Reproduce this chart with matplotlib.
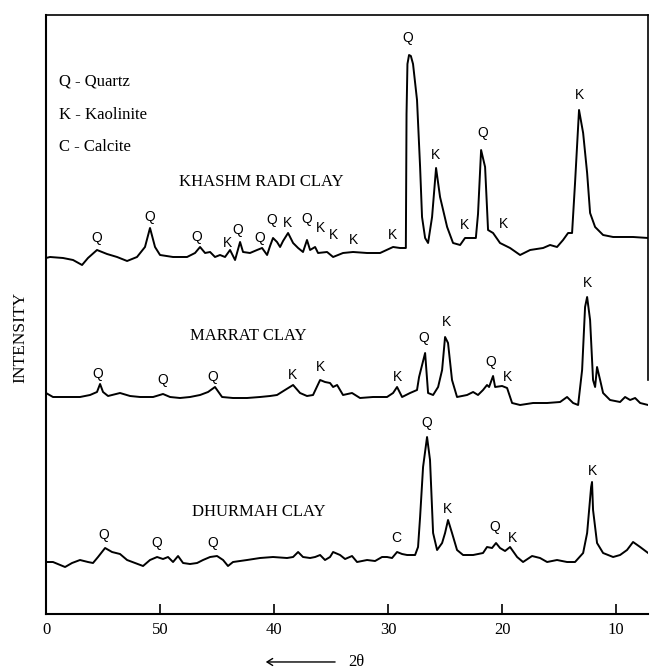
import matplotlib
matplotlib.use("Agg")
import matplotlib.pyplot as plt

# X-ray diffraction traces (2-theta in degrees, stacked intensity)
khashm_theta = [60.0, 59.65, 58.51, 57.63, 56.84, 56.32, 55.53, 54.65, 53.77, 52.89,
                52.02, 51.32, 50.88, 50.44, 50.0, 48.86, 47.63, 46.93, 46.49, 46.05,
                45.61, 45.18, 44.74, 44.30, 43.86, 43.42, 42.98, 42.72, 42.11, 41.49,
                41.05, 40.61, 40.35, 40.09, 39.74, 39.47, 39.21, 38.77, 38.33, 37.89,
                37.46, 37.11, 36.84, 36.40, 36.14, 35.35, 34.82, 33.95, 33.07, 31.84,
                30.70, 29.56, 28.95, 28.44, 28.38, 28.30, 28.16, 28.0, 27.81, 27.46,
                27.19, 27.02, 26.75, 26.49, 26.14, 25.79, 25.44, 24.82, 24.30, 23.68,
                23.25, 22.81, 22.30, 22.11, 21.84, 21.49, 21.23, 20.79, 20.18, 19.30,
                18.42, 17.54, 16.40, 15.79, 15.18, 14.65, 14.21, 13.86, 13.60, 13.25,
                12.89, 12.54, 12.28, 11.84, 11.14, 10.26, 9.39, 8.51, 7.19]
khashm_int = [356, 357, 356, 354, 349, 356, 364, 360, 357, 353,
              357, 367, 386, 367, 359, 357, 357, 361, 367, 361,
              362, 357, 359, 357, 364, 354, 372, 362, 361, 364,
              366, 359, 368, 376, 372, 367, 373, 381, 371, 366,
              362, 374, 364, 367, 361, 362, 357, 361, 362, 361,
              361, 367, 366, 366, 500, 550, 559, 558, 550, 514,
              447, 397, 376, 371, 397, 446, 417, 387, 371, 369,
              376, 376, 376, 400, 464, 447, 384, 381, 371, 366,
              359, 364, 366, 369, 367, 374, 381, 381, 431, 504,
              481, 441, 401, 387, 379, 377, 377, 377, 376]

marrat_theta = [60.0, 59.39, 58.16, 57.02, 56.14, 55.53, 55.26, 55.0, 54.56, 53.51,
                52.63, 51.75, 50.61, 49.74, 49.12, 48.25, 47.37, 46.49, 45.79, 45.18,
                44.56, 43.60, 42.37, 41.23, 40.35, 39.74, 39.04, 38.33, 37.72, 37.11,
                36.58, 35.96, 35.53, 35.09, 34.82, 34.47, 33.95, 33.16, 32.46, 31.32,
                30.09, 29.56, 29.21, 28.77, 28.07, 27.46, 27.28, 26.75, 26.49, 26.05,
                25.61, 25.26, 25.0, 24.74, 24.39, 23.95, 23.07, 22.54, 22.11, 21.67,
                21.32, 21.14, 20.79, 20.61, 20.0, 19.56, 19.12, 18.42, 17.28, 16.05,
                14.91, 14.30, 13.77, 13.33, 12.98, 12.72, 12.54, 12.28, 12.02, 11.84,
                11.67, 11.40, 11.14, 10.53, 9.65, 9.21, 8.77, 8.33, 7.89, 7.19]
marrat_int = [221, 217, 217, 217, 219, 222, 230, 222, 218, 221,
              218, 217, 217, 220, 217, 216, 217, 219, 222, 227,
              217, 216, 216, 217, 218, 219, 224, 229, 221, 218,
              219, 234, 232, 231, 227, 229, 219, 221, 216, 217,
              217, 221, 227, 217, 221, 224, 237, 261, 221, 219,
              227, 244, 277, 271, 234, 217, 219, 222, 219, 224,
              229, 227, 238, 227, 228, 226, 211, 209, 211, 211,
              212, 217, 211, 209, 244, 307, 317, 294, 234, 227,
              247, 234, 221, 214, 212, 217, 214, 216, 211, 209]

dhurmah_theta = [60.0, 59.39, 58.33, 57.72, 57.02, 56.32, 55.88, 55.44, 54.82, 54.21,
                 53.51, 52.89, 52.19, 51.49, 50.88, 50.26, 49.74, 49.30, 48.86, 48.42,
                 47.98, 47.37, 46.75, 46.23, 45.61, 45.0, 44.47, 44.04, 43.60, 42.37,
                 41.23, 40.09, 38.86, 38.33, 37.89, 37.46, 36.84, 36.40, 35.96, 35.53,
                 35.09, 34.82, 34.21, 33.77, 33.16, 32.72, 31.84, 31.14, 30.53, 30.09,
                 29.65, 29.21, 28.77, 28.33, 27.63, 27.37, 27.19, 26.93, 26.58, 26.32,
                 26.05, 25.70, 25.26, 25.0, 24.74, 24.39, 23.95, 23.42, 22.54, 21.67,
                 21.32, 20.88, 20.53, 20.18, 19.74, 19.30, 18.68, 18.16, 17.37, 16.67,
                 16.05, 15.18, 14.30, 13.60, 12.89, 12.54, 12.19, 12.11, 12.02, 11.67,
                 11.14, 10.26, 9.65, 9.04, 8.51, 7.89, 7.19]
dhurmah_int = [52, 52, 47, 51, 54, 52, 51, 57, 66, 62,
               60, 54, 51, 48, 54, 57, 55, 57, 52, 58,
               51, 50, 51, 54, 57, 58, 54, 48, 52, 54,
               56, 57, 56, 57, 62, 57, 56, 57, 59, 54,
               57, 62, 59, 55, 58, 52, 54, 53, 57, 57,
               56, 62, 60, 59, 59, 67, 97, 147, 177, 154,
               81, 64, 71, 81, 94, 81, 64, 59, 59, 61,
               67, 66, 71, 66, 63, 67, 57, 52, 58, 56,
               52, 54, 52, 52, 61, 81, 127, 132, 104, 71,
               61, 57, 59, 64, 72, 67, 61]

# peak identification letters (mineral, 2-theta, height of the letter)
khashm_peaks = ["Q", "Q", "Q", "K", "Q", "Q", "Q", "K", "Q", "K",
                "K", "K", "K", "Q", "K", "K", "Q", "K", "K"]
khashm_peak_theta = [55.53, 50.88, 46.75, 44.12, 43.16, 41.23, 40.18, 38.86, 37.11, 35.96,
                     34.82, 33.07, 29.65, 28.25, 25.88, 23.33, 21.67, 19.91, 13.25]
khashm_peak_int = [376, 397, 377, 371, 384, 376, 394, 391, 395, 386,
                   379, 374, 379, 576, 459, 389, 481, 390, 519]

marrat_peaks = ["Q", "Q", "Q", "K", "K", "K", "Q", "K", "Q", "K", "K"]
marrat_peak_theta = [55.44, 49.74, 45.35, 38.42, 35.96, 29.21, 26.84, 24.91, 20.96, 19.56, 12.54]
marrat_peak_int = [240, 234, 237, 239, 247, 237, 276, 292, 252, 237, 331]

dhurmah_peaks = ["Q", "Q", "Q", "C", "Q", "K", "Q", "K", "K"]
dhurmah_peak_theta = [54.91, 50.26, 45.35, 29.30, 26.58, 24.82, 20.61, 19.12, 12.11]
dhurmah_peak_int = [79, 71, 71, 76, 191, 105, 87, 76, 143]

sample_names = ["KHASHM RADI CLAY", "MARRAT CLAY", "DHURMAH CLAY"]
sample_label_theta = [41.14, 42.28, 41.32]
sample_label_int = [432, 278, 102]

key_lines = ["Q - Quartz", "K - Kaolinite", "C - Calcite"]
key_int = [532, 499, 467]

tick_values = [60, 50, 40, 30, 20, 10]
tick_labels = ["0", "50", "40", "30", "20", "10"]

serif = "Liberation Serif"
sans = "Liberation Sans"

fig = plt.figure(figsize=(6.51, 6.69), dpi=100)
ax = fig.add_axes([0.0707, 0.0822, 0.9247, 0.8954])

for th, inten in [(khashm_theta, khashm_int), (marrat_theta, marrat_int),
                  (dhurmah_theta, dhurmah_int)]:
    ax.plot(th, inten, color="black", lw=1.4, solid_joinstyle="round")

for names, th, inten in [(khashm_peaks, khashm_peak_theta, khashm_peak_int),
                         (marrat_peaks, marrat_peak_theta, marrat_peak_int),
                         (dhurmah_peaks, dhurmah_peak_theta, dhurmah_peak_int)]:
    for n, t, i in zip(names, th, inten):
        ax.text(t, i, n, ha="center", va="center", fontsize=10, family=sans)

for n, t, i in zip(sample_names, sample_label_theta, sample_label_int):
    ax.text(t, i, n, ha="center", va="center", fontsize=12, family=serif)

for line, i in zip(key_lines, key_int):
    ax.text(58.86, i, line, ha="left", va="center", fontsize=12, family=serif)

ax.set_xlim(60, 7.2)
ax.set_ylim(0, 599)
ax.set_yticks([])
ax.set_xticks(tick_values)
ax.set_xticklabels(tick_labels, family=serif, fontsize=12)
ax.tick_params(axis="x", direction="in", length=7, width=1.2, pad=6)

for side in ["left", "bottom"]:
    ax.spines[side].set_linewidth(1.5)
ax.spines["top"].set_linewidth(1.2)
ax.spines["right"].set_linewidth(1.2)
ax.spines["right"].set_bounds(234, 599)

fig.text(0.031, 0.496, "INTENSITY", rotation=90, ha="center", va="center",
         fontsize=12.5, family=serif)

fig.patches.append(matplotlib.patches.FancyArrowPatch(
    (0.519, 0.0105), (0.404, 0.0105), transform=fig.transFigure,
    arrowstyle="->,head_length=4,head_width=2.5", lw=1.0, color="black"))
fig.text(0.548, 0.0105, "2θ", ha="center", va="center", fontsize=12, family=serif)

fig.savefig("out.png", dpi=100)
